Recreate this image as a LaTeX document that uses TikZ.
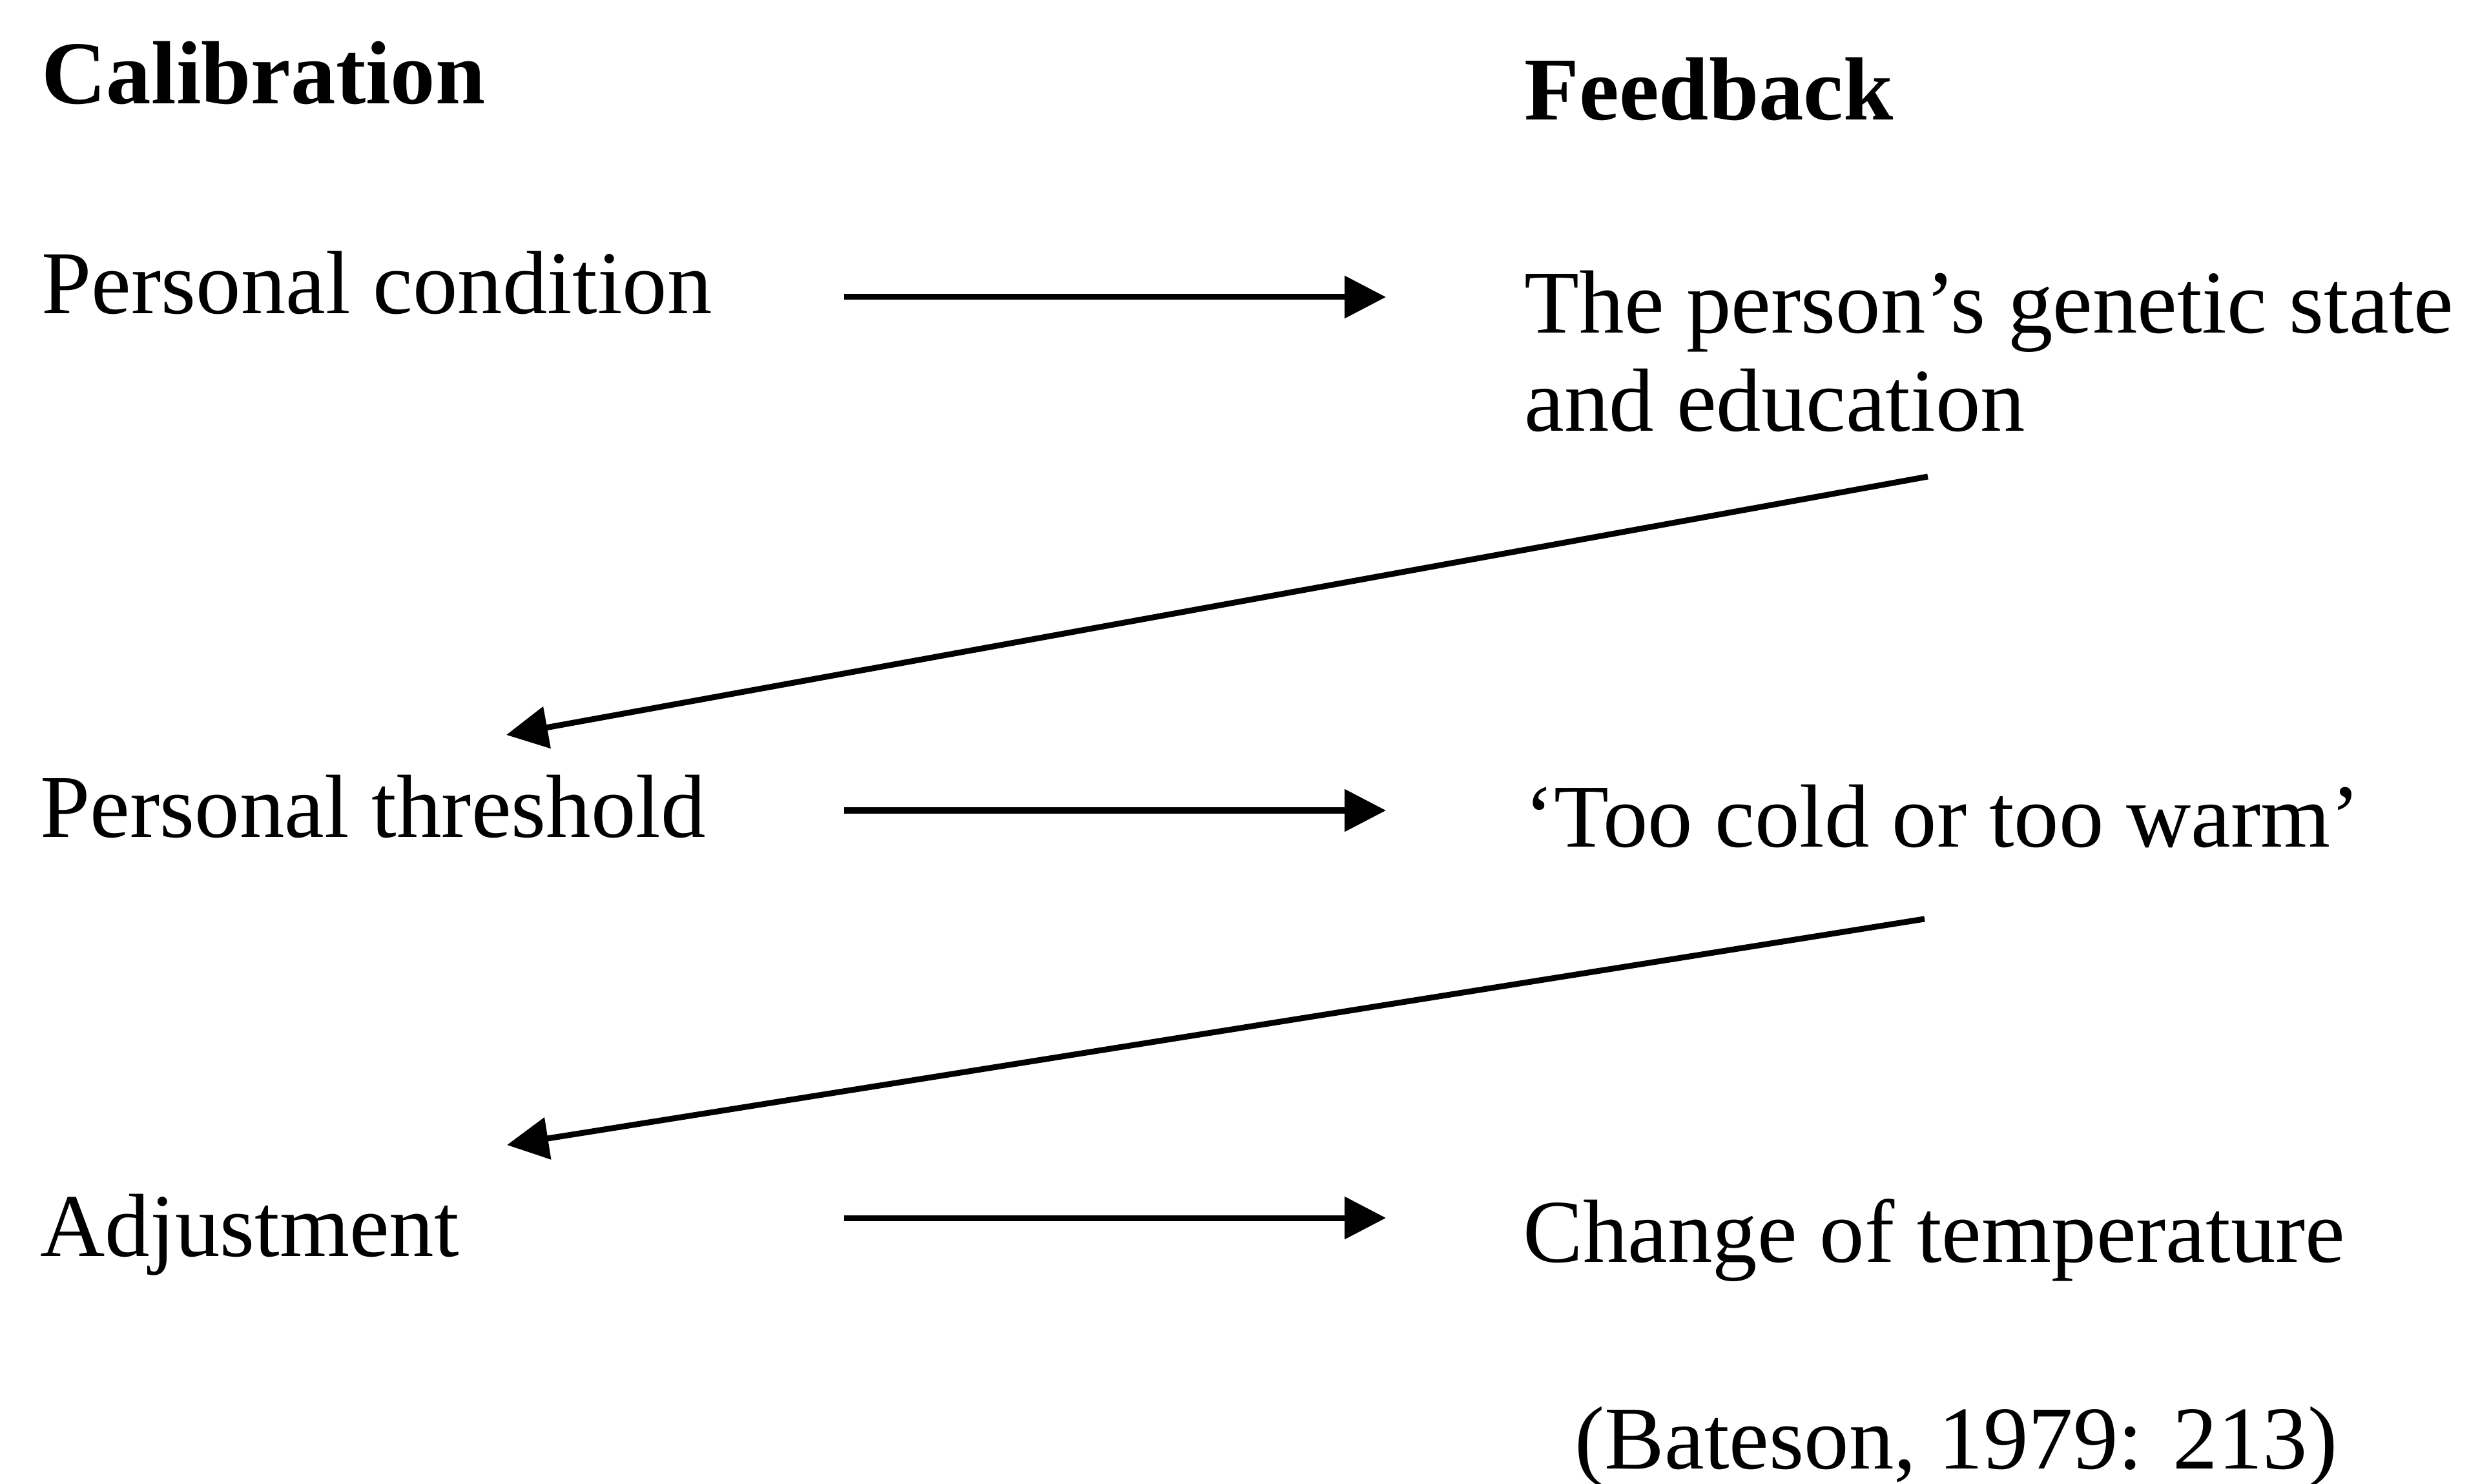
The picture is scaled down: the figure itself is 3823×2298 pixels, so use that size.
\documentclass[tikz,border=0pt]{standalone}
\usepackage{fontspec}
\setmainfont{Liberation Serif}
\usetikzlibrary{arrows.meta}
\begin{document}
\begin{tikzpicture}[x=0.01cm,y=-0.01cm,
  lbl/.style={anchor=base west, inner sep=0pt, font=\fontsize{39.5}{47}\selectfont},
  headlbl/.style={lbl, font=\fontsize{39.5}{47}\selectfont\bfseries},
  arr/.style={line width=0.09cm, -{Triangle[length=0.64cm,width=0.64cm]}}]
\useasboundingbox (0,0) rectangle (3823,2298);

% column headings
\node[headlbl] (cal) at (64,161) {Calibration};
\node[headlbl] (fb) at (2360,186) {Feedback};

% calibration column
\node[lbl] (pc) at (64,486) {Personal condition};
\node[lbl] (pt) at (62,1297) {Personal threshold};
\node[lbl] (adj) at (62,1945) {Adjustment};

% feedback column
\node[lbl] (gs1) at (2360,516) {The person’s genetic state};
\node[lbl] (gs2) at (2360,668) {and education};
\node[lbl] (tc) at (2360,1312) {‘Too cold or too warm’};
\node[lbl] (ct) at (2358,1954) {Change of temperature};

% source
\node[lbl] (src) at (2438,2274) {(Bateson, 1979: 213)};

% arrow end points
\coordinate (h1a) at (1307,460);  \coordinate (h1b) at (2146,460);
\coordinate (h2a) at (1307,1255); \coordinate (h2b) at (2146,1255);
\coordinate (h3a) at (1307,1886); \coordinate (h3b) at (2146,1886);
\coordinate (d1a) at (2985,738);  \coordinate (d1b) at (784,1138);
\coordinate (d2a) at (2980,1423); \coordinate (d2b) at (785,1773);

% calibration -> feedback
\draw[arr] (h1a) -- (h1b);
\draw[arr] (h2a) -- (h2b);
\draw[arr] (h3a) -- (h3b);

% feedback -> next calibration step
\draw[arr] (d1a) -- (d1b);
\draw[arr] (d2a) -- (d2b);
\end{tikzpicture}
\end{document}
